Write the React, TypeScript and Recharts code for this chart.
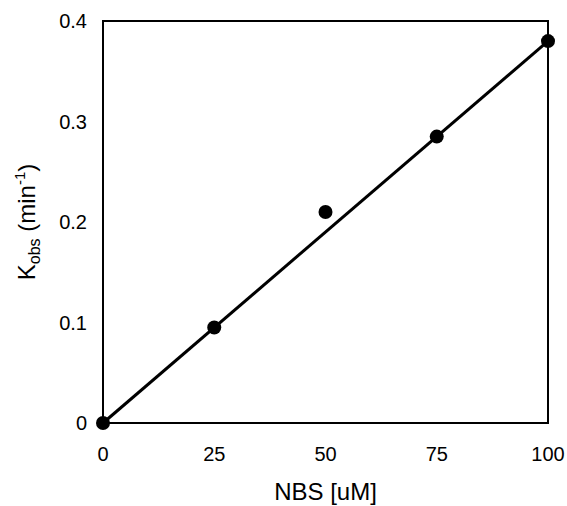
import React from 'react';
import { ComposedChart, Line, Scatter, XAxis, YAxis, ReferenceArea } from 'recharts';

const nbs = [0, 25, 50, 75, 100];
const kobs = [0, 0.095, 0.21, 0.285, 0.38];
const fitX = [0, 100];
const fitY = [0, 0.38];
const xTicks = [0, 25, 50, 75, 100];
const yTicks = [0, 0.1, 0.2, 0.3, 0.4];

const points = nbs.map((x, i) => ({ x, y: kobs[i] }));
const fit = fitX.map((x, i) => ({ x, fit: fitY[i] }));

const font = 'Liberation Sans, Arial, sans-serif';

const YLabel = (props: any) => {
  const vb = props.viewBox || {};
  const cy = vb.y + vb.height / 2;
  const bx = 35;
  return (
    <text
      x={bx}
      y={cy}
      transform={`rotate(-90, ${bx}, ${cy})`}
      textAnchor="middle"
      fontFamily={font}
      fontSize={24}
      fill="#000"
    >
      K
      <tspan fontSize={16} dy={5}>obs</tspan>
      <tspan dy={-5}> (min</tspan>
      <tspan fontSize={15} dy={-10}>-1</tspan>
      <tspan dy={10}>)</tspan>
    </text>
  );
};

const App: React.FC = () => {
  return (
    <div style={{ position: 'absolute', left: 0, top: 0, background: '#fff' }}>
      <ComposedChart
        width={567}
        height={506}
        margin={{ top: 21, right: 19, bottom: 0, left: 0 }}
      >
        <XAxis
          dataKey="x"
          type="number"
          domain={[0, 100]}
          ticks={xTicks}
          height={83}
          axisLine={false}
          tickLine={false}
          tickSize={10}
          tickMargin={14}
          tick={{ fill: '#000', fontSize: 20, fontFamily: font }}
          label={{
            value: 'NBS [uM]',
            position: 'insideBottom',
            offset: 6,
            fill: '#000',
            fontSize: 24,
            fontFamily: font,
          }}
        />
        <YAxis
          type="number"
          domain={[0, 0.4]}
          ticks={yTicks}
          width={103}
          axisLine={false}
          tickLine={false}
          tickSize={8}
          tickMargin={8}
          tick={{ fill: '#000', fontSize: 20, fontFamily: font }}
          label={<YLabel />}
        />
        <ReferenceArea
          x1={0}
          x2={100}
          y1={0}
          y2={0.4}
          fill="none"
          stroke="#000"
          strokeWidth={2}
          fillOpacity={0}
        />
        <Line
          data={fit}
          dataKey="fit"
          stroke="#000"
          strokeWidth={3}
          dot={false}
          isAnimationActive={false}
        />
        <Scatter
          data={points}
          dataKey="y"
          fill="#000"
          shape={(p: any) => <circle cx={p.cx} cy={p.cy} r={7} fill="#000" />}
          isAnimationActive={false}
        />
      </ComposedChart>
    </div>
  );
};

export default App;
